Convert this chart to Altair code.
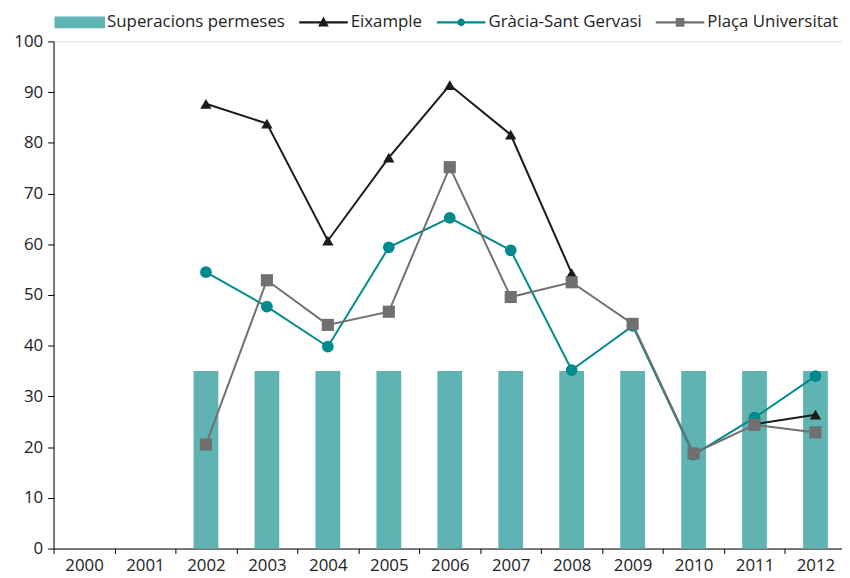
import altair as alt
import pandas as pd

years = [str(y) for y in range(2000, 2013)]
superacions = [None, None, 35, 35, 35, 35, 35, 35, 35, 35, 35, 35, 35]
eixample = [None, None, 87.7, 83.8, 60.7, 77.1, 91.4, 81.6, 54.3, None, None, 24.5, 26.4]
gracia = [None, None, 54.5, 47.7, 39.8, 59.4, 65.2, 58.8, 35.2, 43.9, 18.5, 25.8, 34.0]
placa = [None, None, 20.5, 52.9, 44.1, 46.7, 75.2, 49.6, 52.5, 44.3, 18.75, 24.4, 22.9]

series_names = ["Superacions permeses", "Eixample", "Gràcia-Sant Gervasi", "Plaça Universitat"]
colors = ["#5fb3b3", "#1a1a1a", "#008a8b", "#707070"]
line_series = series_names[1:]
line_values = [eixample, gracia, placa]
marker_shapes = ["triangle-up", "circle", "square"]
marker_sizes = [130, 150, 130]

FONT = "Open Sans"

# bar table
bar_rows = [{"year": y, "value": v, "serie": series_names[0]}
            for y, v in zip(years, superacions) if v is not None]
bar_df = pd.DataFrame(bar_rows)

# line table, split into segments where values are missing
line_rows = []
for name, vals in zip(line_series, line_values):
    seg = 0
    prev_none = True
    for y, v in zip(years, vals):
        if v is None:
            prev_none = True
            continue
        if prev_none:
            seg += 1
            prev_none = False
        line_rows.append({"year": y, "value": v, "serie": name, "seg": f"{name}-{seg}"})
line_df = pd.DataFrame(line_rows)


def per_entry(values):
    """Build a Vega expression choosing a value per legend entry."""
    expr = f"'{values[-1]}'" if isinstance(values[-1], str) else str(values[-1])
    for n, v in reversed(list(zip(series_names[:-1], values[:-1]))):
        vv = f"'{v}'" if isinstance(v, str) else str(v)
        expr = f"datum.value === '{n}' ? {vv} : ({expr})"
    return alt.ExprRef(expr=expr)


PATH_BAR = "M-5.1,-1.2H5.1V1.2H-5.1Z"
PATH_E = "M-4.9,0H4.9M-0.7,0.6L0,-0.7L0.7,0.6Z"
PATH_G = "M-4.9,0H4.9M-0.55,0A0.55,0.55,0,1,0,0.55,0A0.55,0.55,0,1,0,-0.55,0Z"
PATH_P = "M-4.9,0H4.9M-0.65,-0.65H0.65V0.65H-0.65Z"
paths = [PATH_BAR, PATH_E, PATH_G, PATH_P]

legend = alt.Legend(
    title=None,
    orient="none",
    legendX=18,
    legendY=-28,
    direction="horizontal",
    symbolSize=100,
    symbolType=per_entry(paths),
    symbolStrokeColor=per_entry(colors),
    symbolFillColor=per_entry(colors),
    symbolStrokeWidth=per_entry([0, 2.2, 2.2, 2.2]),
    symbolOpacity=1,
    labelFont=FONT,
    labelFontSize=17,
    labelColor="#222222",
    labelLimit=400,
    labelOffset=19,
    columnPadding=9,
    padding=0,
)

color = alt.Color(
    "serie:N",
    scale=alt.Scale(domain=series_names, range=colors),
    legend=legend,
)

x = alt.X(
    "year:O",
    scale=alt.Scale(type="band", domain=years, range=[0, 800], paddingInner=0, paddingOuter=0),
    axis=alt.Axis(
        title=None,
        labelAngle=0,
        tickBand="extent",
        tickSize=5,
        tickColor="black",
        domainColor="black",
        labelFont=FONT,
        labelFontSize=17,
        labelColor="#222222",
        labelPadding=4,
        grid=False,
    ),
)
y = alt.Y(
    "value:Q",
    scale=alt.Scale(domain=[0, 100], nice=False),
    axis=alt.Axis(
        title=None,
        values=list(range(0, 101, 10)),
        tickSize=6,
        tickColor="black",
        domainColor="black",
        labelFont=FONT,
        labelFontSize=17,
        labelColor="#222222",
        labelPadding=5,
        grid=False,
    ),
)

bars = alt.Chart(bar_df).mark_bar(size=25).encode(x=x, y=y, color=color)

lines = alt.Chart(line_df).mark_line(strokeWidth=2).encode(
    x=x, y=y, color=color, detail="seg:N"
)

points = alt.Chart(line_df).mark_point(filled=True, opacity=1).encode(
    x=x,
    y=y,
    color=color,
    shape=alt.Shape("serie:N", scale=alt.Scale(domain=line_series, range=marker_shapes), legend=None),
    size=alt.Size("serie:N", scale=alt.Scale(domain=line_series, range=marker_sizes), legend=None),
)

chart = (
    alt.layer(bars, lines, points)
    .properties(
        width=796,
        height=512,
        padding={"left": 46, "top": 31, "right": 0, "bottom": 27},
        autosize=alt.AutoSizeParams(type="none"),
    )
    .configure_view(stroke=None)
    .configure(font=FONT)
)

chart.save("out.html", embed_options={"renderer": "svg", "actions": False})
